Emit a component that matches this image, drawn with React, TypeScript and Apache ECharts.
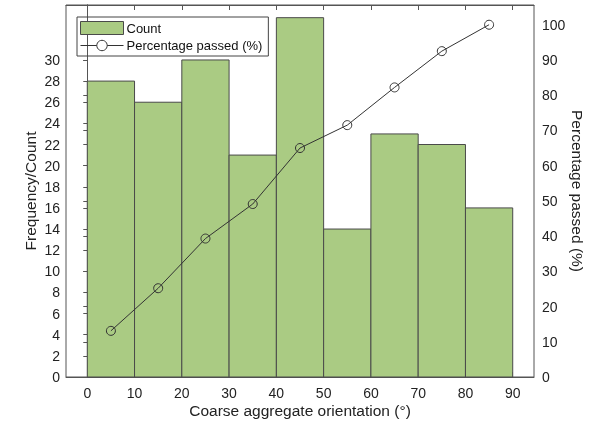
import React, { useEffect, useRef } from "react";
import * as echarts from "echarts";

// Histogram bins (degrees) and counts per bin
const binStarts = [0, 10, 20, 30, 40, 50, 60, 70, 80];
const binWidth = 10;
const counts = [28, 26, 30, 21, 34, 14, 23, 22, 16];
// Cumulative percentage passed, plotted at bin centres
const binCenters = [5, 15, 25, 35, 45, 55, 65, 75, 85];
const percentPassed = [13.1, 25.2, 39.3, 49.1, 65.0, 71.5, 82.2, 92.5, 100];

const xTicks = [0, 10, 20, 30, 40, 50, 60, 70, 80, 90];
const countTicks = [0, 2, 4, 6, 8, 10, 12, 14, 16, 18, 20, 22, 24, 26, 28, 30];
const percentTicks = [0, 10, 20, 30, 40, 50, 60, 70, 80, 90, 100];

const FONT = "Liberation Sans, Arial, sans-serif";
const BAR_FILL = "#aacb83";
const EDGE = "#4a4a4a";

export default function App() {
  const ref = useRef<HTMLDivElement>(null);

  useEffect(() => {
    if (!ref.current) return;
    const chart = echarts.init(ref.current, undefined, { renderer: "svg" });

    const histData = binStarts.map((s, i) => [s, s + binWidth, counts[i]]);

    chart.setOption({
      animation: false,
      textStyle: { fontFamily: FONT },
      grid: {
        left: 66,
        right: 55,
        top: 5,
        bottom: 48,
        containLabel: false,
        outerBoundsMode: "none",
        show: true,
        borderColor: "#555",
        borderWidth: 1,
        backgroundColor: "transparent",
      },
      legend: {
        left: 77,
        top: 17,
        orient: "vertical",
        itemWidth: 43,
        itemHeight: 13,
        itemGap: 4,
        padding: [4, 6, 4, 3],
        borderColor: "#444",
        borderWidth: 1,
        textStyle: { fontSize: 13, color: "#111", fontFamily: FONT, padding: [0, 0, 0, -2] },
        data: [
          { name: "Count", icon: "rect", itemStyle: { color: BAR_FILL, borderColor: EDGE, borderWidth: 1 } },
          {
            name: "Percentage passed (%)",
            itemStyle: { color: "#fff", borderColor: "#333", borderWidth: 1 },
            lineStyle: { color: "#333", width: 1 },
          },
        ],
      },
      xAxis: [
        {
          type: "value",
          min: -4.5,
          max: 94.5,
          position: "bottom",
          axisLine: { show: true, onZero: false, lineStyle: { color: "#555" } },
          axisTick: { show: true, inside: true, length: 5, customValues: xTicks, lineStyle: { color: "#555" } },
          axisLabel: { customValues: xTicks, fontSize: 14, color: "#222", margin: 9, fontFamily: FONT },
          splitLine: { show: false },
          name: "Coarse aggregate orientation (°)",
          nameLocation: "middle",
          nameGap: 25,
          nameMoveOverlap: false,
          nameTextStyle: { fontSize: 15.5, color: "#222", fontFamily: FONT },
        },
        {
          type: "value",
          min: -4.5,
          max: 94.5,
          position: "top",
          axisLine: { show: true, onZero: false, lineStyle: { color: "#555" } },
          axisTick: { show: true, inside: true, length: 5, customValues: xTicks, lineStyle: { color: "#555" } },
          axisLabel: { show: false },
          splitLine: { show: false },
        },
      ],
      yAxis: [
        {
          type: "value",
          min: 0,
          max: 35.2,
          position: "left",
          axisLine: { show: true, lineStyle: { color: "#555" } },
          axisTick: { show: true, length: 4, customValues: countTicks, lineStyle: { color: "#555" } },
          axisLabel: { customValues: countTicks, fontSize: 14, color: "#222", margin: 6, fontFamily: FONT },
          splitLine: { show: false },
          name: "Frequency/Count",
          nameLocation: "middle",
          nameGap: 28,
          nameMoveOverlap: false,
          nameTextStyle: { fontSize: 15.5, color: "#222", fontFamily: FONT },
        },
        {
          type: "value",
          min: 0,
          max: 105.6,
          position: "right",
          axisLine: { show: true, lineStyle: { color: "#555" } },
          axisTick: { show: true, inside: true, length: 4, customValues: percentTicks, lineStyle: { color: "#555" } },
          axisLabel: { customValues: percentTicks, fontSize: 14, color: "#222", margin: 8, fontFamily: FONT },
          splitLine: { show: false },
          name: "Percentage passed (%)",
          nameLocation: "middle",
          nameGap: 35,
          nameRotate: -90,
          nameMoveOverlap: false,
          nameTextStyle: { fontSize: 15.5, color: "#222", fontFamily: FONT },
        },
      ],
      series: [
        {
          name: "Count",
          type: "custom",
          xAxisIndex: 0,
          yAxisIndex: 0,
          data: histData,
          encode: { x: [0, 1], y: 2 },
          renderItem: (params: any, api: any) => {
            const p0 = api.coord([api.value(0), 0]);
            const p1 = api.coord([api.value(1), api.value(2)]);
            return {
              type: "rect",
              shape: { x: p0[0], y: p1[1], width: p1[0] - p0[0], height: p0[1] - p1[1] },
              style: { fill: BAR_FILL, stroke: EDGE, lineWidth: 1 },
            };
          },
          itemStyle: { color: BAR_FILL, borderColor: EDGE },
          z: 1,
        },
        {
          name: "Percentage passed (%)",
          type: "line",
          xAxisIndex: 0,
          yAxisIndex: 1,
          data: binCenters.map((x, i) => [x, percentPassed[i]]),
          symbol: "circle",
          symbolSize: 9,
          showAllSymbol: true,
          lineStyle: { color: "#333", width: 1 },
          itemStyle: { color: "rgba(255,255,255,0)", borderColor: "#333", borderWidth: 1 },
          z: 3,
        },
      ],
    });

    return () => chart.dispose();
  }, []);

  return <div ref={ref} style={{ position: "fixed", left: 0, top: 0, width: 589, height: 425 }} />;
}
